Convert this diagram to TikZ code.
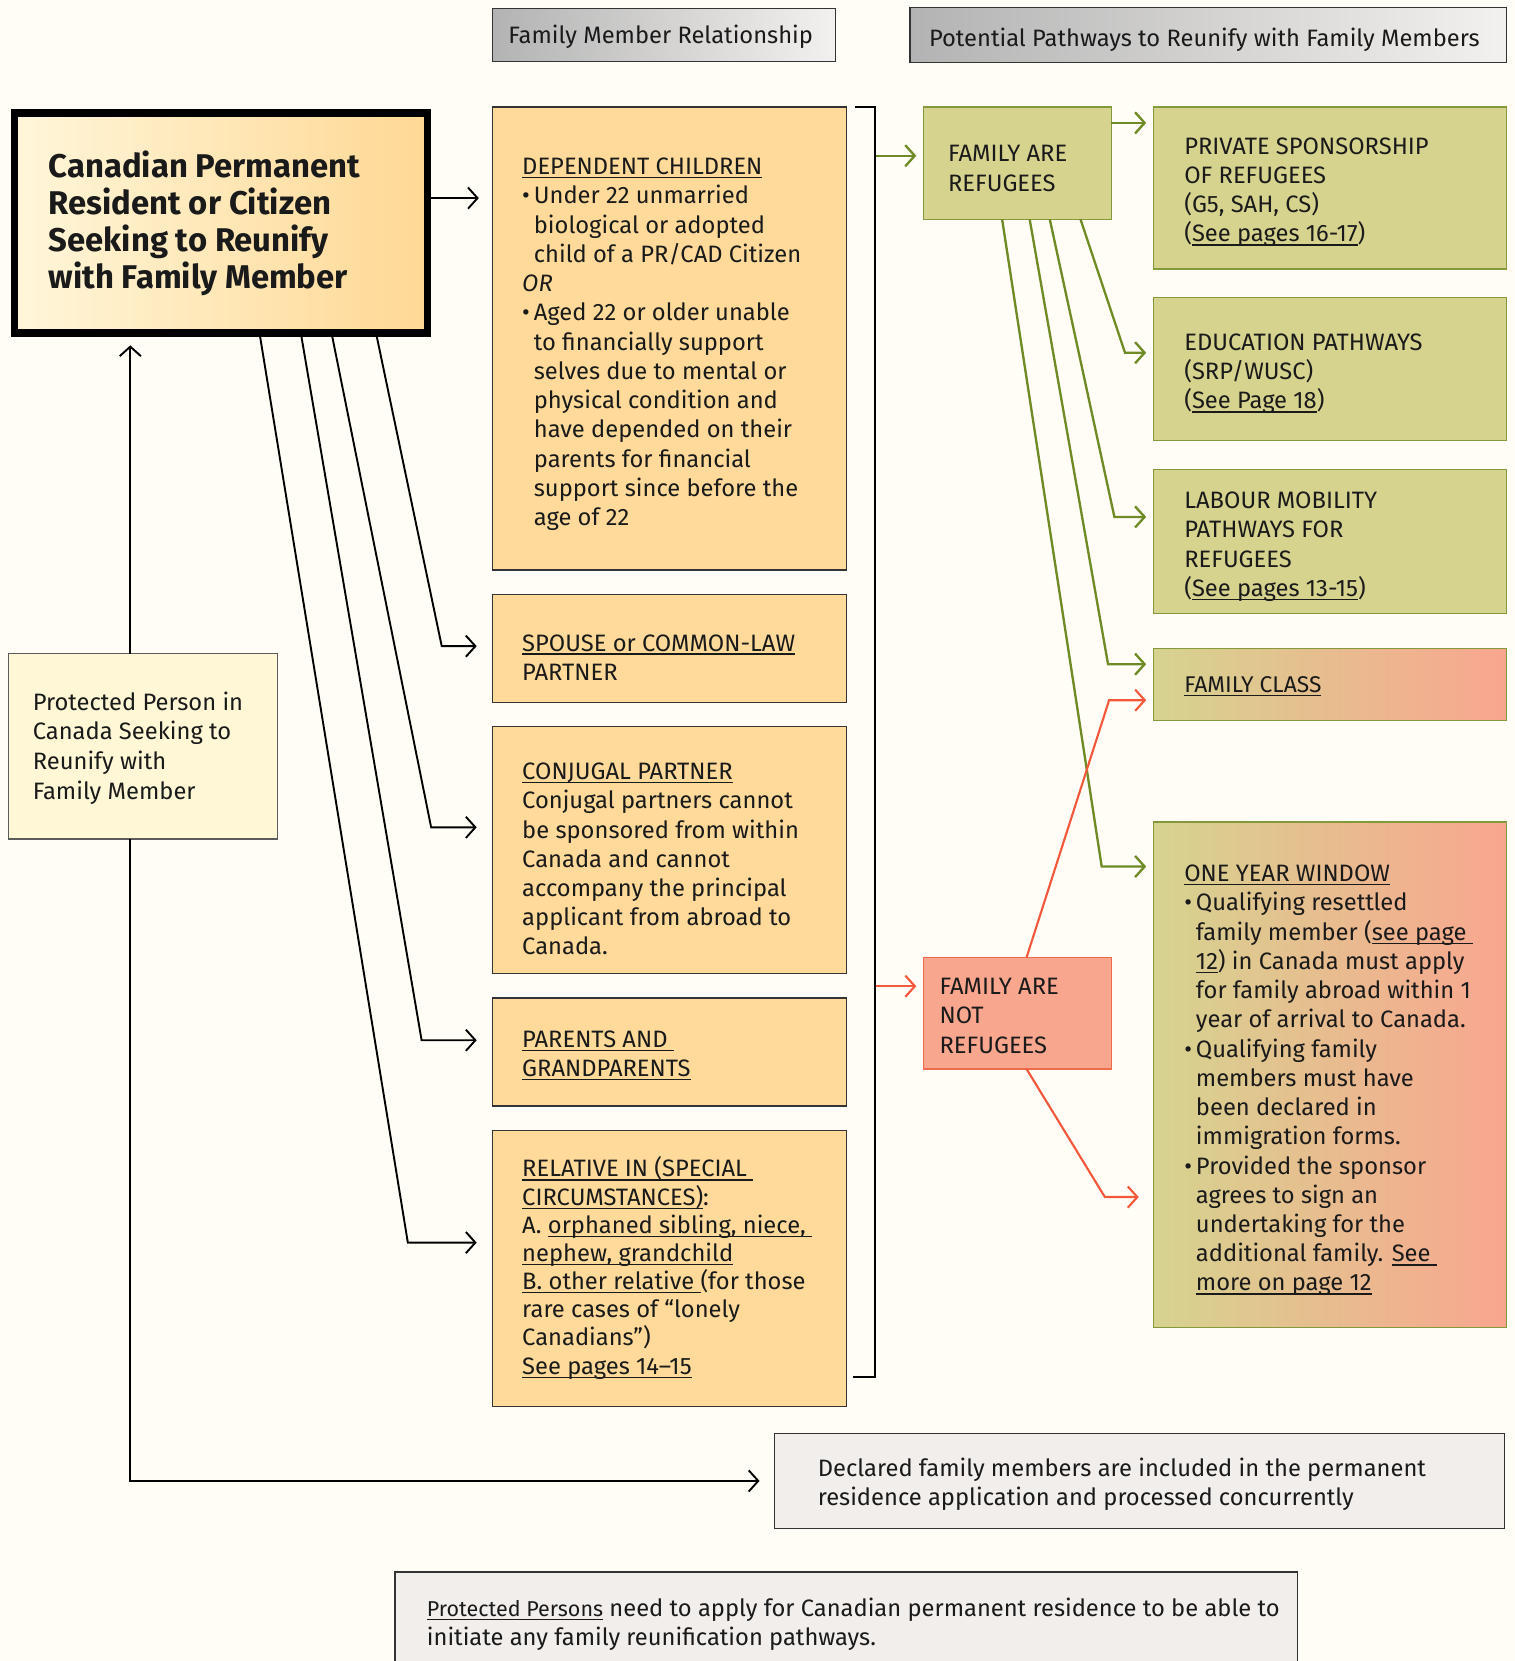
\documentclass[tikz,border=0pt]{standalone}
\usepackage{fontspec}
\setmainfont{Fira Sans}
\usetikzlibrary{arrows.meta}
\definecolor{bg}{HTML}{FFFDF6}
\definecolor{ink}{HTML}{1A1A1A}
\definecolor{mainL}{HTML}{FFF6DA}
\definecolor{mainR}{HTML}{FFD894}
\definecolor{orF}{HTML}{FFDA9A}
\definecolor{prF}{HTML}{FFF7D6}
\definecolor{hdL}{HTML}{B3B3B3}
\definecolor{hdR}{HTML}{F3F1EF}
\definecolor{grF}{HTML}{D6D38F}
\definecolor{grB}{HTML}{84993A}
\definecolor{grA}{HTML}{6E8B25}
\definecolor{rdA}{HTML}{F4583A}
\definecolor{rdF}{HTML}{F9A68F}
\definecolor{rdB}{HTML}{F26A4C}
\definecolor{gyF}{HTML}{F2EEEB}
\definecolor{bdr}{HTML}{333333}
\newcommand\myul[1]{\setbox0=\hbox{#1}\rlap{\rule[-0.16em]{\wd0}{0.055em}}\box0}
\newcommand\mybul{\makebox[11pt][l]{•}}
\newcommand\myind{\hspace*{11pt}}
\begin{document}
\begin{tikzpicture}[x=1pt,y=-1pt,
  box/.style={draw=bdr, line width=1.3pt, anchor=north west, inner sep=0pt, outer sep=0pt},
  txt/.style={anchor=west, inner sep=0pt, outer sep=0pt, align=left, text=ink, yshift=-2pt, font=\fontsize{22.4}{27.6}\selectfont},
  conn/.style={draw=black, line width=1.8pt, -{Straight Barb[length=9pt,width=20pt]}},
  gconn/.style={draw=grA, line width=2.2pt, -{Straight Barb[length=9pt,width=20pt]}},
  rconn/.style={draw=rdA, line width=2pt, -{Straight Barb[length=9pt,width=20pt]}},
]
\fill[bg] (0,0) rectangle (1430,1568);
\useasboundingbox (0,0) rectangle (1430,1568);

% boxes
\node[box, left color=hdL, right color=hdR, minimum width=324, minimum height=50] (h1) at (465,8) {};
\node[box, left color=hdL, right color=hdR, minimum width=563, minimum height=52] (h2) at (859,7) {};
\node[box, draw=black, line width=7pt, left color=mainL, right color=mainR, minimum width=390, minimum height=208] (main) at (13.5,106.5) {};
\node[box, fill=orF, minimum width=334, minimum height=437] (dep) at (465,101) {};
\node[box, fill=orF, minimum width=334, minimum height=102] (spo) at (465,561) {};
\node[box, fill=orF, minimum width=334, minimum height=233] (conj) at (465,686) {};
\node[box, fill=orF, minimum width=334, minimum height=102] (par) at (465,942) {};
\node[box, fill=orF, minimum width=334, minimum height=261] (rel) at (465,1067) {};
\node[box, fill=prF, draw=bdr!80, minimum width=254, minimum height=175] (prot) at (8,617) {};
\node[box, fill=grF, draw=grB, minimum width=177, minimum height=106] (far) at (872,101) {};
\node[box, fill=rdF, draw=rdB, minimum width=177, minimum height=105] (fanr) at (872,904) {};
\node[box, fill=grF, draw=grB, minimum width=333, minimum height=153] (priv) at (1089,101) {};
\node[box, fill=grF, draw=grB, minimum width=333, minimum height=135] (edu) at (1089,281) {};
\node[box, fill=grF, draw=grB, minimum width=333, minimum height=136] (lab) at (1089,443) {};
\node[box, left color=grF, right color=rdF, draw=grB, minimum width=333, minimum height=68] (fam) at (1089,612) {};
\node[box, left color=grF, right color=rdF, draw=grB, minimum width=333, minimum height=477] (oyw) at (1089,776) {};
\node[box, fill=gyF, minimum width=689, minimum height=90] (decl) at (731,1353) {};
\node[box, fill=gyF, minimum width=852, minimum height=100] (note) at (373,1484) {};

% texts
\node[txt] (h1T) at (480,33) {Family Member Relationship};
\node[txt] (h2T) at (877,36) {Potential Pathways to Reunify with Family Members};
\node[txt, font=\fontsize{31}{35}\selectfont\bfseries] (mainT) at (46,208.5) {Canadian Permanent\\Resident or Citizen\\Seeking to Reunify\\with Family Member};
\node[txt] (depT) at (493,323) {\myul{DEPENDENT CHILDREN}\\
\mybul Under 22 unmarried\\
\myind biological or adopted\\
\myind child of a PR/CAD Citizen\\
\textit{OR}\\
\mybul Aged 22 or older unable\\
\myind to financially support\\
\myind selves due to mental or\\
\myind physical condition and\\
\myind have depended on their\\
\myind parents for financial\\
\myind support since before the\\
\myind age of 22};
\node[txt] (spoT) at (493,618.5) {\myul{SPOUSE or COMMON-LAW}\\PARTNER};
\node[txt] (conjT) at (493,809) {\myul{CONJUGAL PARTNER}\\
Conjugal partners cannot\\
be sponsored from within\\
Canada and cannot\\
accompany the principal\\
applicant from abroad to\\
Canada.};
\node[txt] (parT) at (493,994.5) {\myul{PARENTS AND\ }\\\myul{GRANDPARENTS}};
\node[txt, font=\fontsize{22.4}{26.6}\selectfont] (relT) at (493,1195) {\myul{RELATIVE IN (SPECIAL\ }\\
\myul{CIRCUMSTANCES)}:\\
A. \myul{orphaned sibling, niece,\ }\\
\myul{nephew, grandchild}\\
\myul{B. other relative\ }(for those\\
rare cases of “lonely\\
Canadians”)\\
\myul{See pages 14–15}};
\node[txt, font=\fontsize{22.4}{28}\selectfont] (protT) at (31,704) {Protected Person in\\Canada Seeking to\\Reunify with\\Family Member};
\node[txt] (farT) at (895,157) {FAMILY ARE\\REFUGEES};
\node[txt] (fanrT) at (887,957) {FAMILY ARE\\NOT\\REFUGEES};
\node[txt] (privT) at (1118,179.5) {PRIVATE SPONSORSHIP\\OF REFUGEES\\(G5, SAH, CS)\\(\myul{See pages 16-17})};
\node[txt] (eduT) at (1118,351) {EDUCATION PATHWAYS\\(SRP/WUSC)\\(\myul{See Page 18})};
\node[txt] (labT) at (1118,514) {LABOUR MOBILITY\\PATHWAYS FOR\\REFUGEES\\(\myul{See pages 13-15})};
\node[txt, font=\fontsize{21.5}{25}\selectfont] (famT) at (1118,646) {\myul{FAMILY CLASS}};
\node[txt] (oywT) at (1118,1018) {\myul{ONE YEAR WINDOW}\\
\mybul Qualifying resettled\\
\myind family member (\myul{see page\ }\\
\myind \myul{12}) in Canada must apply\\
\myind for family abroad within 1\\
\myind year of arrival to Canada.\\
\mybul Qualifying family\\
\myind members must have\\
\myind been declared in\\
\myind immigration forms.\\
\mybul Provided the sponsor\\
\myind agrees to sign an\\
\myind undertaking for the\\
\myind additional family. \myul{See\ }\\
\myind \myul{more on page 12}};
\node[txt] (declT) at (772,1399) {Declared family members are included in the permanent\\residence application and processed concurrently};
\node[txt] (noteT) at (403,1531.5) {{\fontsize{20.3}{27}\selectfont\myul{Protected Persons}} need to apply for Canadian permanent residence to be able to\\initiate any family reunification pathways.};

% bracket
\draw[line width=2pt] (807,101) -- (826,101) -- (826,1300) -- (805,1300);

% black connectors
\coordinate (m1) at ([yshift=23.5pt]main.east);
\draw[conn, shorten >=13pt] (m1) -- (m1 -| dep.west);
\coordinate (k1) at (417,610);
\coordinate (k2) at (407,781);
\coordinate (k3) at (398,982);
\coordinate (k4) at (385,1173);
\draw[conn, shorten >=15pt] ([xshift=341.5pt]main.south west) -- (k1) -- (k1 -| spo.west);
\draw[conn, shorten >=15pt] ([xshift=299.5pt]main.south west) -- (k2) -- (k2 -| conj.west);
\draw[conn, shorten >=15pt] ([xshift=270.5pt]main.south west) -- (k3) -- (k3 -| par.west);
\draw[conn, shorten >=15pt] ([xshift=231.5pt]main.south west) -- (k4) -- (k4 -| rel.west);
\coordinate (p1) at ([xshift=115pt]prot.north west);
\draw[conn, shorten >=11.5pt] (p1) -- (p1 |- main.south);
\coordinate (p2) at ([xshift=115pt]prot.south west);
\draw[conn, shorten >=14pt] (p2) -- (p2 |- decl.west) -- (decl.west);

% bracket outputs
\coordinate (b1) at (827,147);
\draw[gconn, shorten >=7pt] (b1) -- (b1 -| far.west);
\coordinate (b2) at (827,931);
\draw[rconn, shorten >=7pt] (b2) -- (b2 -| fanr.west);

% green connectors
\coordinate (g0) at ([yshift=-15pt]far.north east);
\draw[gconn, shorten >=7pt] (g0) -- (g0 -| priv.west);
\coordinate (e1) at (1062,333);
\coordinate (e2) at (1052,488);
\coordinate (e3) at (1046,627);
\coordinate (e4) at (1040,818);
\draw[gconn, shorten >=7pt] ([xshift=-29pt]far.south east) -- (e1) -- (e1 -| edu.west);
\draw[gconn, shorten >=7pt] ([xshift=-58pt]far.south east) -- (e2) -- (e2 -| lab.west);
\draw[gconn, shorten >=7pt] ([xshift=-77pt]far.south east) -- (e3) -- (e3 -| fam.west);
\draw[gconn, shorten >=7pt] ([xshift=-103pt]far.south east) -- (e4) -- (e4 -| oyw.west);

% red connectors
\coordinate (r1) at (1047,661);
\coordinate (r2) at (1043,1130);
\draw[rconn, shorten >=7pt] ([xshift=-80pt]fanr.north east) -- (r1) -- (r1 -| fam.west);
\draw[rconn, shorten >=14pt] ([xshift=-80pt]fanr.south east) -- (r2) -- (r2 -| oyw.west);
\end{tikzpicture}
\end{document}
